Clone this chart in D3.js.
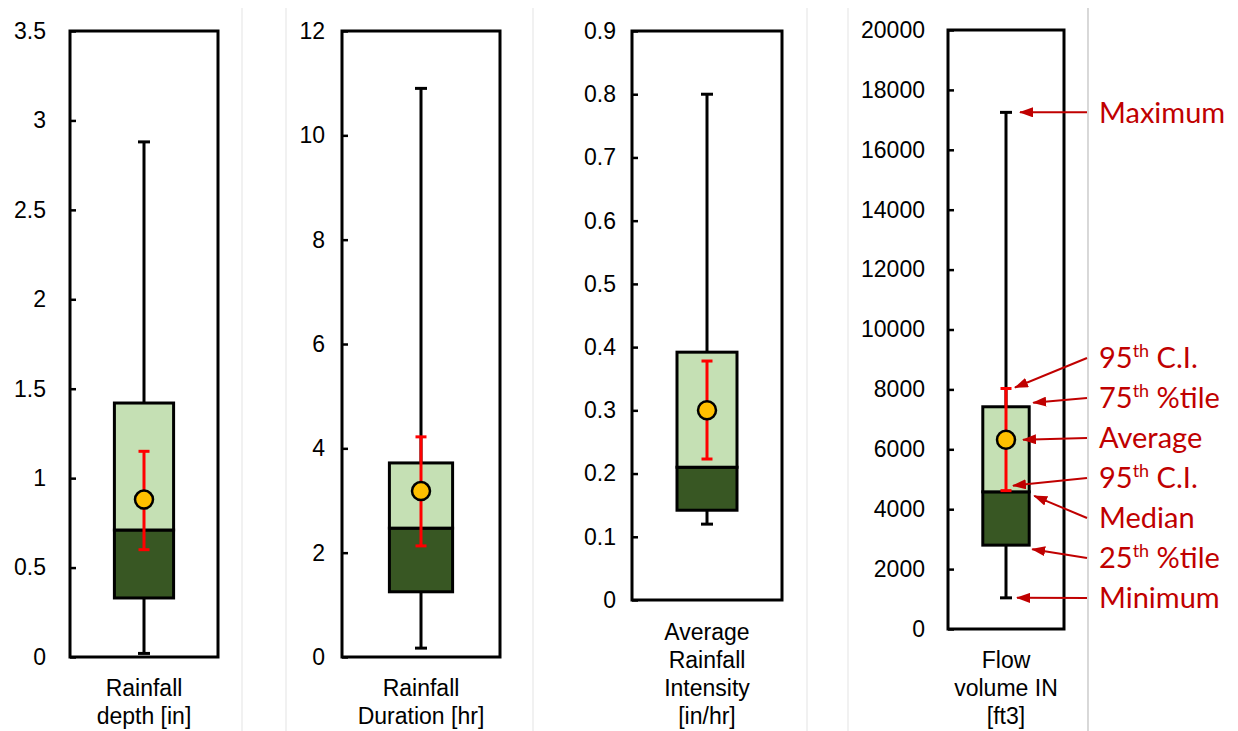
<!DOCTYPE html>
<html>
<head>
<meta charset="utf-8">
<script src="https://cdn.jsdelivr.net/npm/d3@7"></script>
<style>
  html, body { margin: 0; padding: 0; background: #fff; }
  svg { display: block; }
</style>
</head>
<body>
<svg id="chart" width="1238" height="731"></svg>
<script>
// values, one entry per panel
const categories = [
    ["Rainfall", "depth [in]"],
    ["Rainfall", "Duration [hr]"],
    ["Average", "Rainfall", "Intensity", "[in/hr]"],
    ["Flow", "volume IN", "[ft3]"]
];
const maxVals    = [2.88, 10.9, 0.80, 17250];
const q3Vals     = [1.42, 3.72, 0.392, 7420];
const medianVals = [0.71, 2.47, 0.21, 4580];
const q1Vals     = [0.33, 1.25, 0.142, 2800];
const minVals    = [0.02, 0.17, 0.12, 1040];
const meanVals   = [0.88, 3.18, 0.30, 6320];
const ciUpper    = [1.15, 4.22, 0.378, 8030];
const ciLower    = [0.60, 2.13, 0.223, 4620];

const tickValues = [
    [0, 0.5, 1, 1.5, 2, 2.5, 3, 3.5],
    [0, 2, 4, 6, 8, 10, 12],
    [0, 0.1, 0.2, 0.3, 0.4, 0.5, 0.6, 0.7, 0.8, 0.9],
    [0, 2000, 4000, 6000, 8000, 10000, 12000, 14000, 16000, 18000, 20000]
];

// legend on the right of the last panel
const annoText = ["Maximum", "95|th| C.I.", "75|th| %tile", "Average", "95|th| C.I.", "Median", "25|th| %tile", "Minimum"];
const annoStat = ["max", "ciUp", "q3", "mean", "ciLo", "median", "q1", "min"];

// layout of each excel chart (frame in px)
const frames = [
    { left: 70,  right: 218,  top: 31, bottom: 657 },
    { left: 342, right: 500,  top: 31, bottom: 657 },
    { left: 632, right: 782,  top: 31, bottom: 600 },
    { left: 948, right: 1064, top: 30, bottom: 629 }
];
const tickPad = [24, 17, 16, 23];
const separators = [242, 286, 533, 807, 848];

const svg = d3.select("#chart");

// faint borders of the pasted charts
svg.selectAll("line.sep")
    .data(separators)
    .enter().append("line")
    .attr("x1", d => d).attr("x2", d => d)
    .attr("y1", 8).attr("y2", 731)
    .attr("stroke", "#e3e3e3").attr("stroke-width", 1);
svg.append("line")
    .attr("x1", 1088).attr("x2", 1088).attr("y1", 8).attr("y2", 731)
    .attr("stroke", "#bfbfbf").attr("stroke-width", 1.2);

const defs = svg.append("defs");
defs.append("marker")
    .attr("id", "arrow")
    .attr("markerUnits", "userSpaceOnUse")
    .attr("markerWidth", 14).attr("markerHeight", 10)
    .attr("refX", 13).attr("refY", 5)
    .attr("orient", "auto")
    .append("path")
    .attr("d", "M0,0 L14,5 L0,10 Z")
    .attr("fill", "#C00000");

let lastPanel = null;

frames.forEach((f, i) => {
    const g = svg.append("g");

    const y = d3.scaleLinear()
        .domain([0, d3.max(tickValues[i])])
        .range([f.bottom, f.top]);

    const x = d3.scaleBand()
        .domain([categories[i].join(" ")])
        .range([f.left, f.right])
        .paddingInner(0)
        .paddingOuter(0.75);

    const cat = categories[i].join(" ");
    const bx = x(cat), bw = x.bandwidth(), cx = bx + bw / 2;

    // y axis, ticks pointing inside the frame
    const axis = d3.axisLeft(y)
        .tickValues(tickValues[i])
        .tickFormat(d => String(d))
        .tickSizeInner(-6)
        .tickSizeOuter(0)
        .tickPadding(tickPad[i]);

    const ax = g.append("g")
        .attr("transform", `translate(${f.left},0)`)
        .call(axis);
    ax.select(".domain").remove();
    ax.selectAll(".tick line").attr("stroke", "#000").attr("stroke-width", 2.5);
    ax.selectAll(".tick text")
        .attr("fill", "#000")
        .style("font-family", "'Liberation Sans', Arial, sans-serif")
        .style("font-size", "23px");

    // whisker
    g.append("line")
        .attr("x1", cx).attr("x2", cx)
        .attr("y1", y(minVals[i])).attr("y2", y(maxVals[i]))
        .attr("stroke", "#000").attr("stroke-width", 3);
    [minVals[i], maxVals[i]].forEach(v => {
        g.append("line")
            .attr("x1", cx - 6).attr("x2", cx + 6)
            .attr("y1", y(v)).attr("y2", y(v))
            .attr("stroke", "#000").attr("stroke-width", 3);
    });

    // box: lower part dark, upper part light
    g.append("rect")
        .attr("x", bx).attr("width", bw)
        .attr("y", y(medianVals[i])).attr("height", y(q1Vals[i]) - y(medianVals[i]))
        .attr("fill", "#385723").attr("stroke", "#000").attr("stroke-width", 3);
    g.append("rect")
        .attr("x", bx).attr("width", bw)
        .attr("y", y(q3Vals[i])).attr("height", y(medianVals[i]) - y(q3Vals[i]))
        .attr("fill", "#C5E0B4").attr("stroke", "#000").attr("stroke-width", 3);

    // 95% confidence interval
    g.append("line")
        .attr("x1", cx).attr("x2", cx)
        .attr("y1", y(ciLower[i])).attr("y2", y(ciUpper[i]))
        .attr("stroke", "#FF0000").attr("stroke-width", 3);
    [ciLower[i], ciUpper[i]].forEach(v => {
        g.append("line")
            .attr("x1", cx - 5.5).attr("x2", cx + 5.5)
            .attr("y1", y(v)).attr("y2", y(v))
            .attr("stroke", "#FF0000").attr("stroke-width", 3);
    });

    // mean
    g.append("circle")
        .attr("cx", cx).attr("cy", y(meanVals[i])).attr("r", 9)
        .attr("fill", "#FFC000").attr("stroke", "#000").attr("stroke-width", 2.5);

    // frame
    g.append("rect")
        .attr("x", f.left).attr("y", f.top)
        .attr("width", f.right - f.left).attr("height", f.bottom - f.top)
        .attr("fill", "none").attr("stroke", "#000").attr("stroke-width", 3);

    // category label, bottom aligned
    const lines = categories[i];
    g.append("text")
        .attr("text-anchor", "middle")
        .style("font-family", "'Liberation Sans', Arial, sans-serif")
        .style("font-size", "23px")
        .attr("fill", "#000")
        .selectAll("tspan")
        .data(lines)
        .enter().append("tspan")
        .attr("x", cx)
        .attr("y", (d, k) => 724 - (lines.length - 1 - k) * 28)
        .text(d => d);

    lastPanel = { y, cx, bx, bw, i };
});

// annotations for the last panel
const p = lastPanel;
const statVal = {
    max: maxVals[p.i], ciUp: ciUpper[p.i], q3: q3Vals[p.i], mean: meanVals[p.i],
    ciLo: ciLower[p.i], median: medianVals[p.i], q1: q1Vals[p.i], min: minVals[p.i]
};
const boxRight = p.bx + p.bw;
const tipX = { max: p.cx + 14, ciUp: p.cx + 9, q3: boxRight + 4, mean: p.cx + 17,
               ciLo: p.cx + 7, median: boxRight + 5, q1: boxRight + 3, min: p.cx + 11 };
const tipDy = { max: 0, ciUp: -1, q3: -4, mean: 0, ciLo: -5, median: 4, q1: 4, min: 0 };

const labelY = annoStat.map((s, k) => k === 0 ? p.y(statVal.max) : 358 + (k - 1) * 40);

const ann = svg.append("g");
annoStat.forEach((s, k) => {
    ann.append("line")
        .attr("x1", 1087).attr("y1", labelY[k])
        .attr("x2", tipX[s]).attr("y2", p.y(statVal[s]) + tipDy[s])
        .attr("stroke", "#C00000").attr("stroke-width", 2)
        .attr("marker-end", "url(#arrow)");

    const parts = annoText[k].split("|");
    const t = ann.append("text")
        .attr("x", 1099).attr("y", labelY[k])
        .attr("dy", "0.36em")
        .attr("fill", "#C00000")
        .style("font-family", "Lato, 'Open Sans', sans-serif")
        .style("font-size", "29px");
    t.append("tspan").text(parts[0]);
    if (parts.length > 1) {
        t.append("tspan").attr("dy", -11).style("font-size", "18px").text(parts[1]);
        t.append("tspan").attr("dy", 11).text(parts[2]);
    }
});
</script>
</body>
</html>
